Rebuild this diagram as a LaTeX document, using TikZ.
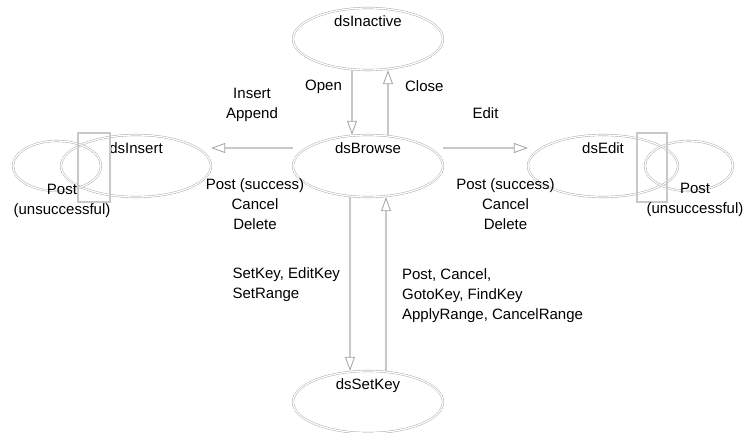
\documentclass[tikz,border=0pt]{standalone}
\usepackage{fontspec}
\setmainfont{Liberation Sans}
\usetikzlibrary{shapes.geometric, arrows.meta, positioning}
\definecolor{edgegray}{RGB}{160,160,160}
\definecolor{linegray}{RGB}{200,200,200}
\tikzstyle{state} = [
  ellipse,
  minimum width=150pt,
  minimum height=62pt,
  inner sep=0,
  draw=edgegray,
  double=white,
  double distance=1.3pt
]
\tikzstyle{statename} = [
  anchor=north,
  yshift=-8pt,
  inner sep=0,
  font=\fontsize{15}{20}\selectfont
]
\tikzstyle{loopstate} = [
  ellipse,
  minimum width=88pt,
  minimum height=50pt,
  inner sep=0,
  draw=edgegray,
  double=white,
  double distance=1.3pt
]
\tikzstyle{selfbar} = [
  draw=linegray,
  line width=2pt
]
\tikzstyle{txt} = [
  inner sep=0,
  align=center,
  font=\fontsize{15}{20}\selectfont
]
\tikzstyle{arrow} = [
  draw=linegray,
  line width=2.2pt,
  -{Triangle[open, length=14pt, width=10pt, line width=0.8pt, color=edgegray, fill=white]}
]

\begin{document}
\begin{tikzpicture}[node distance=232pt]

    \useasboundingbox (0,0) rectangle (752pt,-433pt);

    \node (browse) [state, label={[statename]north:dsBrowse}] at (368pt,-166pt) {};
    \node (inactive) [state, label={[statename]north:dsInactive}, above of=browse, yshift=-105pt] {};
    \node (insert) [state, label={[statename]north:dsInsert}, left of=browse] {};
    \node (edit) [state, label={[statename]north:dsEdit}, right of=browse, xshift=3pt] {};
    \node (setkey) [state, label={[statename]north:dsSetKey}, below of=browse, yshift=-4pt] {};

    \node (insertloop) [loopstate, node distance=79pt, left of=insert] {};
    \node (editloop) [loopstate, node distance=86pt, right of=edit] {};
    \draw [selfbar] ([xshift=-58pt,yshift=33pt]insert.center) rectangle ([xshift=-26pt,yshift=-36pt]insert.center);
    \draw [selfbar] ([xshift=34pt,yshift=33pt]edit.center) rectangle ([xshift=64pt,yshift=-36pt]edit.center);

    \node (insertpost) [txt, below of=insertloop, node distance=35pt, xshift=5pt] {Post\\(unsuccessful)};
    \node (editpost) [txt, below of=editloop, node distance=34pt, xshift=6pt] {Post\\(unsuccessful)};

    \draw [arrow] ([xshift=-16pt]inactive.south) -- node[txt, anchor=east, xshift=-9pt, yshift=16pt] {Open} ([xshift=-16pt]browse.north);
    \draw [arrow] ([xshift=20pt]browse.north) -- node[txt, anchor=west, xshift=16pt, yshift=16pt] {Close} ([xshift=20pt]inactive.south);
    \draw [arrow] ([yshift=18pt]browse.west) -- node[txt, yshift=43pt] {Insert\\Append}
      node[txt, yshift=-56pt, xshift=3pt] {Post (success)\\Cancel\\Delete} ([yshift=18pt]insert.east);
    \draw [arrow] ([yshift=18pt]browse.east) -- node[txt, yshift=35pt] {Edit}
      node[txt, yshift=-56pt, xshift=20pt] {Post (success)\\Cancel\\Delete} ([yshift=18pt]edit.west);
    \draw [arrow] ([xshift=-18pt]browse.south) -- node[txt, align=left, anchor=east, xshift=-9pt, yshift=-1pt] {SetKey, EditKey\\SetRange} ([xshift=-18pt]setkey.north);
    \draw [arrow] ([xshift=18pt]setkey.north) -- node[txt, align=left, anchor=west, xshift=15pt, yshift=-12pt] {Post, Cancel,\\GotoKey, FindKey\\ApplyRange, CancelRange} ([xshift=18pt]browse.south);

  \end{tikzpicture}
\end{document}
